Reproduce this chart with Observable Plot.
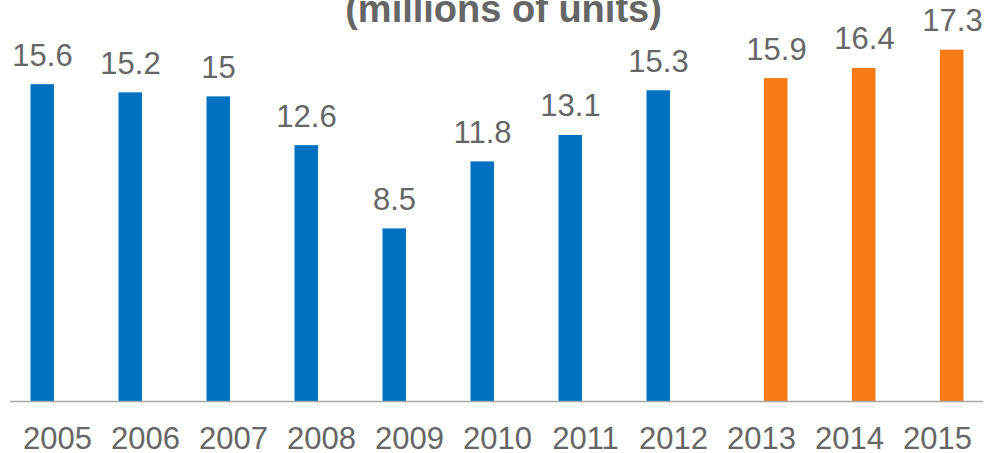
<!DOCTYPE html>
<html>
<head>
<meta charset="utf-8">
<script src="https://cdn.jsdelivr.net/npm/d3@7"></script>
<script src="https://cdn.jsdelivr.net/npm/@observablehq/plot@0.6"></script>
<style>
  html, body { margin: 0; padding: 0; background: #fff; }
  #chart svg { display: block; }
</style>
</head>
<body>
<div id="chart"></div>
<script>
const title = "(millions of units)";
const years = ["2005","2006","2007","2008","2009","2010","2011","2012","2013","2014","2015"];
const units = [15.6, 15.2, 15, 12.6, 8.5, 11.8, 13.1, 15.3, 15.9, 16.4, 17.3];
const kinds = ["Actual","Actual","Actual","Actual","Actual","Actual","Actual","Actual","Forecast","Forecast","Forecast"];

const data = years.map((y, i) => ({year: y, value: units[i], kind: kinds[i]}));
const actual = data.filter(d => d.kind === "Actual");
const forecast = data.filter(d => d.kind === "Forecast");

const font = "'Liberation Sans', Arial, Helvetica, sans-serif";
const gray = "#666666";

const chart = Plot.plot({
  width: 988,
  height: 453,
  marginTop: 5,
  marginBottom: 52,
  marginLeft: 10,
  marginRight: 5,
  style: {fontFamily: font, background: "#fff"},
  x: {domain: years, padding: 0, label: null},
  y: {domain: [0, 19.5], axis: null},
  marks: [
    Plot.barY(actual, {x: "year", y: "value", fill: "#0070C0", insetLeft: 17.5, insetRight: 47}),
    Plot.barY(forecast, {x: "year", y: "value", fill: "#F97B16", insetLeft: 47, insetRight: 17.5}),
    Plot.text(actual, {x: "year", y: "value", text: d => String(d.value), dx: -15, dy: -19, lineAnchor: "bottom", fontSize: 31, fill: gray}),
    Plot.text(forecast, {x: "year", y: "value", text: d => String(d.value), dx: 15, dy: -19, lineAnchor: "bottom", fontSize: 31, fill: gray}),
    Plot.ruleY([0], {stroke: "#a6a6a6", strokeWidth: 1.5}),
    Plot.axisX({tickSize: 0, tickPadding: 25, fontSize: 31, fill: gray, label: null}),
    Plot.text([title], {frameAnchor: "top", dx: 6.5, dy: 16, lineAnchor: "bottom", fontSize: 38, fontWeight: "bold", fill: gray})
  ]
});
document.getElementById("chart").appendChild(chart);
</script>
</body>
</html>
